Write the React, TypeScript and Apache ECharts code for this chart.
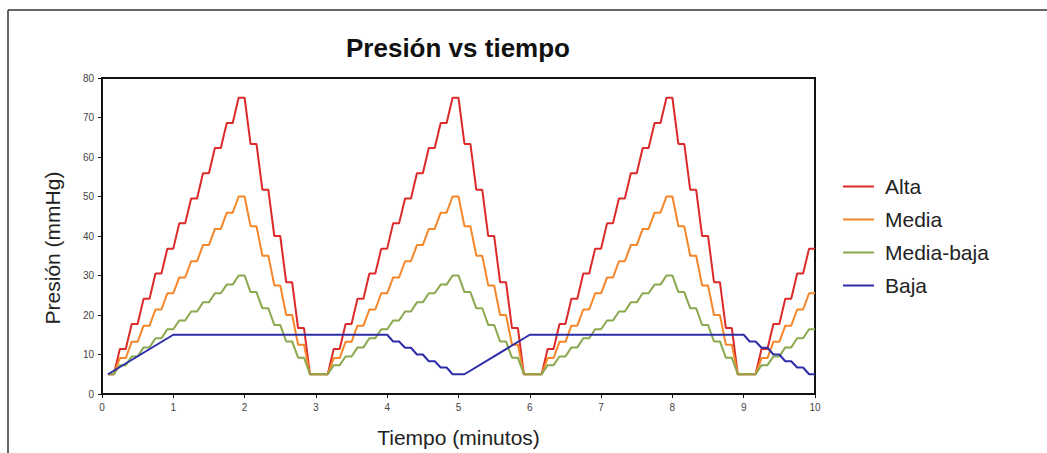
import React, { useEffect, useRef } from "react";
import * as echarts from "echarts";

// Sampling instants (seconds), every 5 s from 5 s to 600 s
const tiempoSeg: number[] = Array.from({ length: 120 }, (_, i) => (i + 1) * 5);

const alta: number[] = [
  5, 5, 11.4, 11.4, 17.7, 17.7, 24.1, 24.1, 30.5, 30.5, 36.8, 36.8, 43.2, 43.2, 49.5, 49.5, 55.9, 55.9, 62.3, 62.3, 68.6, 68.6, 75, 75,
  63.3, 63.3, 51.7, 51.7, 40, 40, 28.3, 28.3, 16.7, 16.7, 5, 5, 5, 5,
  11.4, 11.4, 17.7, 17.7, 24.1, 24.1, 30.5, 30.5, 36.8, 36.8, 43.2, 43.2, 49.5, 49.5, 55.9, 55.9, 62.3, 62.3, 68.6, 68.6, 75, 75,
  63.3, 63.3, 51.7, 51.7, 40, 40, 28.3, 28.3, 16.7, 16.7, 5, 5, 5, 5,
  11.4, 11.4, 17.7, 17.7, 24.1, 24.1, 30.5, 30.5, 36.8, 36.8, 43.2, 43.2, 49.5, 49.5, 55.9, 55.9, 62.3, 62.3, 68.6, 68.6, 75, 75,
  63.3, 63.3, 51.7, 51.7, 40, 40, 28.3, 28.3, 16.7, 16.7, 5, 5, 5, 5,
  11.4, 11.4, 17.7, 17.7, 24.1, 24.1, 30.5, 30.5, 36.8, 36.8,
];

const media: number[] = [
  5, 5, 9.1, 9.1, 13.2, 13.2, 17.3, 17.3, 21.4, 21.4, 25.5, 25.5, 29.5, 29.5, 33.6, 33.6, 37.7, 37.7, 41.8, 41.8, 45.9, 45.9, 50, 50,
  42.5, 42.5, 35, 35, 27.5, 27.5, 20, 20, 12.5, 12.5, 5, 5, 5, 5,
  9.1, 9.1, 13.2, 13.2, 17.3, 17.3, 21.4, 21.4, 25.5, 25.5, 29.5, 29.5, 33.6, 33.6, 37.7, 37.7, 41.8, 41.8, 45.9, 45.9, 50, 50,
  42.5, 42.5, 35, 35, 27.5, 27.5, 20, 20, 12.5, 12.5, 5, 5, 5, 5,
  9.1, 9.1, 13.2, 13.2, 17.3, 17.3, 21.4, 21.4, 25.5, 25.5, 29.5, 29.5, 33.6, 33.6, 37.7, 37.7, 41.8, 41.8, 45.9, 45.9, 50, 50,
  42.5, 42.5, 35, 35, 27.5, 27.5, 20, 20, 12.5, 12.5, 5, 5, 5, 5,
  9.1, 9.1, 13.2, 13.2, 17.3, 17.3, 21.4, 21.4, 25.5, 25.5,
];

const mediaBaja: number[] = [
  5, 5, 7.3, 7.3, 9.5, 9.5, 11.8, 11.8, 14.1, 14.1, 16.4, 16.4, 18.6, 18.6, 20.9, 20.9, 23.2, 23.2, 25.5, 25.5, 27.7, 27.7, 30, 30,
  25.8, 25.8, 21.7, 21.7, 17.5, 17.5, 13.3, 13.3, 9.2, 9.2, 5, 5, 5, 5,
  7.3, 7.3, 9.5, 9.5, 11.8, 11.8, 14.1, 14.1, 16.4, 16.4, 18.6, 18.6, 20.9, 20.9, 23.2, 23.2, 25.5, 25.5, 27.7, 27.7, 30, 30,
  25.8, 25.8, 21.7, 21.7, 17.5, 17.5, 13.3, 13.3, 9.2, 9.2, 5, 5, 5, 5,
  7.3, 7.3, 9.5, 9.5, 11.8, 11.8, 14.1, 14.1, 16.4, 16.4, 18.6, 18.6, 20.9, 20.9, 23.2, 23.2, 25.5, 25.5, 27.7, 27.7, 30, 30,
  25.8, 25.8, 21.7, 21.7, 17.5, 17.5, 13.3, 13.3, 9.2, 9.2, 5, 5, 5, 5,
  7.3, 7.3, 9.5, 9.5, 11.8, 11.8, 14.1, 14.1, 16.4, 16.4,
];

// Baja: vertices (seconds, mmHg)
const bajaSeg: number[] = [5, 60, 240, 245, 250, 255, 260, 265, 270, 275, 280, 285, 290, 295, 305, 360, 540, 545, 550, 555, 560, 565, 570, 575, 580, 585, 590, 595, 600];
const bajaVal: number[] = [5, 15, 15, 13.3, 13.3, 11.7, 11.7, 10, 10, 8.3, 8.3, 6.7, 6.7, 5, 5, 15, 15, 13.3, 13.3, 11.7, 11.7, 10, 10, 8.3, 8.3, 6.7, 6.7, 5, 5];

const nombres = ["Alta", "Media", "Media-baja", "Baja"];
const colores = ["#dc2a2a", "#f5862a", "#8aa84e", "#2d2da8"];
const xTicks = [0, 10];
const yTicks = [0, 80];

const toPairs = (ts: number[], vs: number[]) => ts.map((t, i) => [t / 60, vs[i]]);

export default function App() {
  const ref = useRef<HTMLDivElement>(null);
  useEffect(() => {
    if (!ref.current) return;
    const chart = echarts.init(ref.current, null, { renderer: "svg" });
    const seriesData = [
      toPairs(tiempoSeg, alta),
      toPairs(tiempoSeg, media),
      toPairs(tiempoSeg, mediaBaja),
      toPairs(bajaSeg, bajaVal),
    ];
    const font = "Liberation Sans, Arial, sans-serif";
    chart.setOption({
      animation: false,
      backgroundColor: "#fff",
      textStyle: { fontFamily: font },
      grid: {
        left: 102,
        right: 232,
        top: 78,
        bottom: 59,
        show: true,
        borderColor: "#111",
        borderWidth: 2,
        backgroundColor: "transparent",
      },
      xAxis: {
        type: "value",
        min: xTicks[0],
        max: xTicks[1],
        interval: 1,
        name: "Tiempo (minutos)",
        nameLocation: "middle",
        nameGap: 33,
        nameTextStyle: { fontSize: 21, color: "#222", fontFamily: font },
        axisLine: { show: true, lineStyle: { color: "#111", width: 2 } },
        axisTick: { show: true, length: 4, lineStyle: { color: "#111", width: 1 } },
        axisLabel: { fontSize: 10, color: "#444", margin: 8, fontFamily: font },
        splitLine: { show: false },
      },
      yAxis: {
        type: "value",
        min: yTicks[0],
        max: yTicks[1],
        interval: 10,
        axisLine: { show: true, lineStyle: { color: "#111", width: 2 } },
        axisTick: { show: true, length: 4, lineStyle: { color: "#111", width: 1 } },
        axisLabel: { fontSize: 10, color: "#444", margin: 8, fontFamily: font },
        splitLine: { show: false },
      },
      legend: {
        orient: "vertical",
        left: 838,
        top: 171,
        icon: "rect",
        itemWidth: 31,
        itemHeight: 2,
        itemGap: 12,
        data: nombres,
        textStyle: { fontSize: 21, color: "#222", lineHeight: 21, padding: [0, 0, 0, 6], fontFamily: font },
      },
      graphic: [
        { type: "line", shape: { x1: 8, y1: 10, x2: 1047, y2: 10 }, style: { stroke: "#333", lineWidth: 1.5 } },
        { type: "line", shape: { x1: 8, y1: 10, x2: 8, y2: 453 }, style: { stroke: "#333", lineWidth: 1.5 } },
        {
          type: "text",
          x: 458,
          y: 48,
          style: {
            text: "Presión vs tiempo",
            textAlign: "center",
            textVerticalAlign: "middle",
            font: "bold 26px Liberation Sans, Arial, sans-serif",
            fill: "#111",
          },
        },
        {
          type: "text",
          x: 52,
          y: 248,
          rotation: Math.PI / 2,
          style: {
            text: "Presión (mmHg)",
            textAlign: "center",
            textVerticalAlign: "middle",
            font: "21px Liberation Sans, Arial, sans-serif",
            fill: "#222",
          },
        },
      ],
      series: nombres.map((n, i) => ({
        name: n,
        type: "line",
        data: seriesData[i],
        showSymbol: false,
        symbol: "none",
        lineStyle: { color: colores[i], width: 2 },
        itemStyle: { color: colores[i] },
        z: 2 + i,
      })),
    });
    return () => chart.dispose();
  }, []);
  return (
    <div
      ref={ref}
      style={{ position: "absolute", left: 0, top: 0, width: 1047, height: 453 }}
    />
  );
}
